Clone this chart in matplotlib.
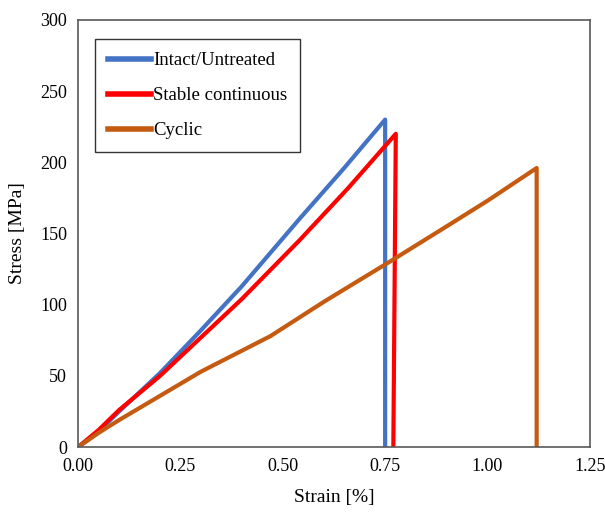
import matplotlib

matplotlib.use("Agg")
import matplotlib.pyplot as plt

plt.rcParams["font.family"] = ["Liberation Serif", "DejaVu Serif"]

# Stress-strain curves
intact_strain = [0.0, 0.05, 0.10, 0.20, 0.30, 0.40, 0.54, 0.65, 0.75, 0.75]
intact_stress = [0, 11, 25, 52, 82, 113, 160, 196, 230, 0]

stable_strain = [0.0, 0.05, 0.10, 0.20, 0.30, 0.40, 0.54, 0.66, 0.776, 0.77]
stable_stress = [0, 12, 26, 50, 77, 104, 145, 182, 220, 0]

cyclic_strain = [0.0, 0.05, 0.10, 0.20, 0.30, 0.47, 0.60, 0.76, 0.90, 1.00, 1.12, 1.12]
cyclic_stress = [0, 10, 19, 36, 53, 78, 102, 130, 155, 173, 196, 0]

labels = ["Intact/Untreated", "Stable continuous", "Cyclic"]
colors = ["#4472C4", "#FF0000", "#C55A11"]

x_ticks = [0.0, 0.25, 0.5, 0.75, 1.0, 1.25]
y_ticks = [0, 50, 100, 150, 200, 250, 300]

fig = plt.figure(figsize=(6.05, 5.23), dpi=100)
ax = fig.add_axes([0.129, 0.145, 0.846, 0.817])

series = [(intact_strain, intact_stress), (stable_strain, stable_stress),
          (cyclic_strain, cyclic_stress)]
for (xs, ys), lab, c in zip(series, labels, colors):
    ax.plot(xs, ys, color=c, linewidth=3, label=lab, solid_joinstyle="round")

ax.set_xlim(0, 1.25)
ax.set_ylim(0, 300)
ax.set_xticks(x_ticks)
ax.set_xticklabels([f"{v:.2f}" for v in x_ticks])
ax.set_yticks(y_ticks)
ax.tick_params(length=0, labelsize=13, pad=8)
for s in ax.spines.values():
    s.set_color("#595959")
    s.set_linewidth(1.2)

ax.set_xlabel("Strain [%]", fontsize=14, labelpad=10)
ax.set_ylabel("Stress [MPa]", fontsize=14, labelpad=10)

leg = ax.legend(loc="upper left", bbox_to_anchor=(0.033, 0.955), fontsize=13.5,
                fancybox=False, edgecolor="black", handlelength=2.3,
                handletextpad=0.1, labelspacing=0.95, borderpad=0.7,
                borderaxespad=0)
leg.get_frame().set_linewidth(1.0)
for h in leg.legend_handles:
    h.set_linewidth(4)

fig.savefig("out.png")
